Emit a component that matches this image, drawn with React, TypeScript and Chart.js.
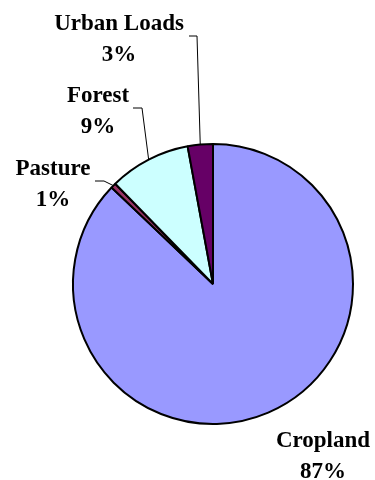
import React, { useEffect, useRef } from "react";
import { Chart, registerables } from "chart.js";

Chart.register(...registerables);

const categories = ["Cropland", "Pasture", "Forest", "Urban Loads"];
const values = [87.1, 0.6, 9.4, 2.9];
const colors = ["#9999FF", "#993366", "#CCFFFF", "#660066"];

// label placement (text center x, baseline of first line) and leader elbows
const labelLayout = [
  { x: 323, y: 447, leader: null },
  { x: 53, y: 175, leader: { ex: 104, ey: 181, tx: 95 } },
  { x: 98, y: 102, leader: { ex: 142, ey: 108, tx: 133 } },
  { x: 119, y: 30, leader: { ex: 197, ey: 36, tx: 189 } },
];

const labelPlugin = {
  id: "pieLabels",
  afterDatasetsDraw(chart: any) {
    const ctx = chart.ctx;
    const meta = chart.getDatasetMeta(0);
    const data = chart.data.datasets[0].data as number[];
    const total = data.reduce((a: number, b: number) => a + b, 0);
    ctx.save();
    meta.data.forEach((arc: any, i: number) => {
      const L = labelLayout[i];
      const p = arc.getProps(["x", "y", "startAngle", "endAngle", "outerRadius"], true);
      if (L.leader) {
        const mid = (p.startAngle + p.endAngle) / 2;
        const ax = p.x + Math.cos(mid) * p.outerRadius;
        const ay = p.y + Math.sin(mid) * p.outerRadius;
        ctx.beginPath();
        ctx.strokeStyle = "#000";
        ctx.lineWidth = 1;
        ctx.moveTo(ax, ay);
        ctx.lineTo(L.leader.ex, L.leader.ey);
        ctx.lineTo(L.leader.tx, L.leader.ey);
        ctx.stroke();
      }
      ctx.fillStyle = "#000";
      ctx.font = "bold 23px 'Liberation Serif', 'Times New Roman', serif";
      ctx.textAlign = "center";
      ctx.textBaseline = "alphabetic";
      const pct = Math.round((data[i] / total) * 100) + "%";
      ctx.fillText(chart.data.labels[i], L.x, L.y);
      ctx.fillText(pct, L.x, L.y + 31);
    });
    ctx.restore();
  },
};

export default function App() {
  const ref = useRef<HTMLCanvasElement>(null);
  useEffect(() => {
    document.body.style.margin = "0";
    const chart = new Chart(ref.current as HTMLCanvasElement, {
      type: "pie",
      data: {
        labels: categories,
        datasets: [
          {
            data: values,
            backgroundColor: colors,
            borderColor: "#000",
            borderWidth: 2,
          },
        ],
      },
      options: {
        responsive: false,
        animation: false,
        devicePixelRatio: 1,
        layout: { padding: { left: 72, right: 21, top: 143, bottom: 55 } },
        plugins: {
          legend: { display: false },
          tooltip: { enabled: false },
        },
      },
      plugins: [labelPlugin],
    });
    return () => chart.destroy();
  }, []);
  return (
    <div style={{ width: 375, height: 480, background: "#fff" }}>
      <canvas ref={ref} width={375} height={480} style={{ display: "block" }} />
    </div>
  );
}
